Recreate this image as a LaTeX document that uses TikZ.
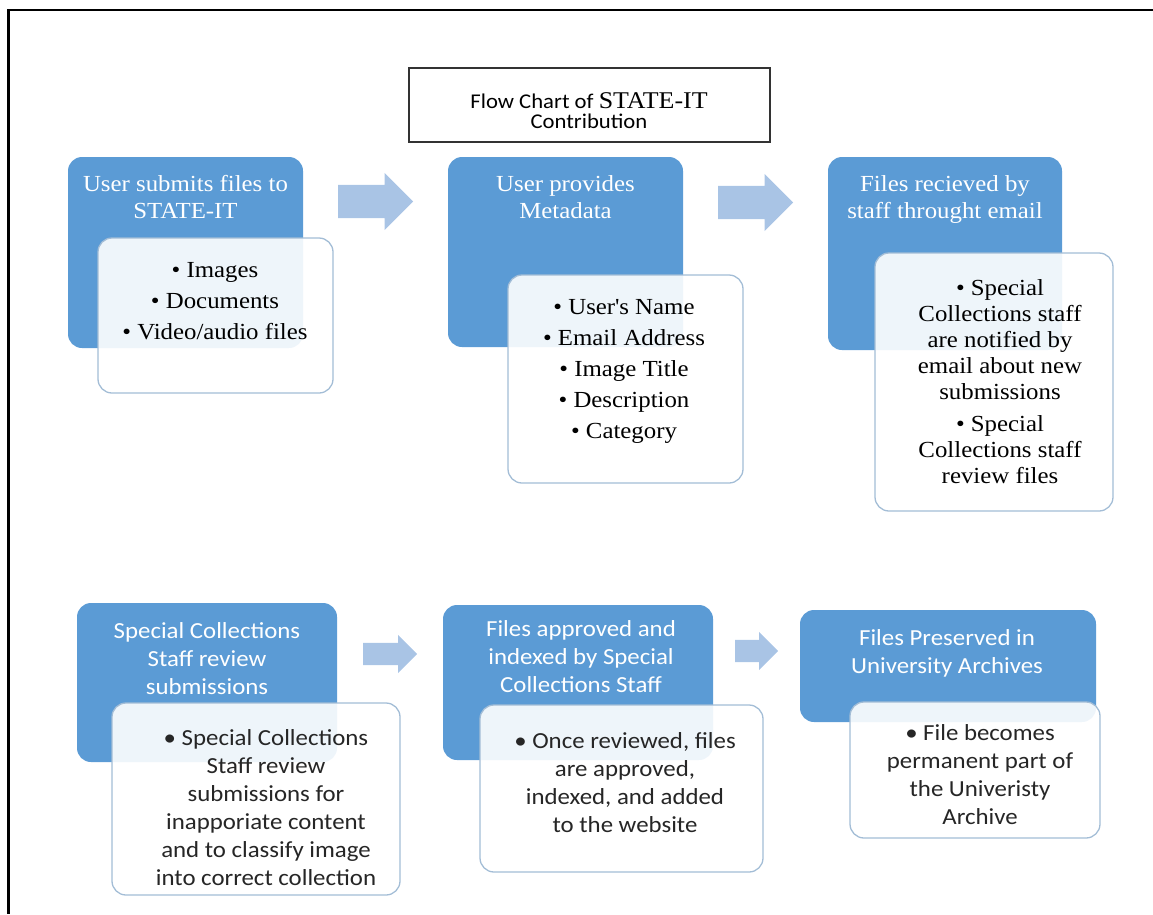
\documentclass[tikz,border=0pt]{standalone}
\usepackage{fontspec}
\setmainfont{Liberation Serif}[FakeStretch=1.08]
\newfontfamily\calibri{Carlito}[FakeStretch=1.08]
\usetikzlibrary{shapes.arrows}

\definecolor{boxblue}{HTML}{5B9BD5}
\definecolor{arrowblue}{HTML}{A9C4E5}
\definecolor{itemline}{HTML}{A3BDD6}

\tikzset{
  stepbox/.style={rounded corners=14pt, fill=boxblue, inner sep=0pt},
  itembox/.style={rounded corners=14pt, draw=itemline, line width=1.3pt, fill=white, fill opacity=0.9, inner sep=0pt},
  headtext/.style={anchor=north, inner sep=0pt, align=center, text=white},
  itemtext/.style={anchor=north, inner sep=0pt, align=center},
  arrowbase/.style={single arrow, fill=arrowblue, inner xsep=0pt, anchor=west},
  bigarrow/.style={arrowbase, inner ysep=16.5pt, single arrow head extend=12pt, minimum height=75pt},
  smallarrow/.style={arrowbase, inner ysep=11pt, single arrow head extend=8pt, minimum height=#1},
}

\begin{document}
\begin{tikzpicture}[x=1pt, y=-1pt, font=\fontsize{23}{27}\selectfont]
\useasboundingbox (0,0) rectangle (1153,914);

% Frame
\draw[line width=2.3pt] (1153,10) -- (8.5,10) -- (8.5,914);

% Title
\node[draw=black!80, line width=1.2pt, minimum width=361pt, minimum height=74pt, inner sep=0pt] (title) at (589.5,105) {};
\node[itemtext, font=\calibri\fontsize{21}{20}\selectfont] (title-text) at (589,92) {Flow Chart of {\rmfamily\fontsize{24}{20}\selectfont STATE-IT}\\Contribution};

% Row one
\node[stepbox, minimum width=235pt, minimum height=191pt] (submit) at (185.5,252.5) {};
\node[itembox, minimum width=235pt, minimum height=155pt] (submit-items) at (215.5,315.5) {};
\node[headtext] (submit-text) at (185.5,175) {User submits files to\\STATE-IT};
\node[itemtext] (submit-list) at (215,262) {• Images\\[4pt]• Documents\\[4pt]• Video/audio files};

\node[bigarrow] (arrow-a) at (338,201.5) {};

\node[stepbox, minimum width=235pt, minimum height=190pt] (meta) at (565.5,252) {};
\node[itembox, minimum width=235pt, minimum height=208pt] (meta-items) at (625.5,379) {};
\node[headtext] (meta-text) at (565.5,175) {User provides\\Metadata};
\node[itemtext] (meta-list) at (624,299) {• User\textquotesingle s Name\\[4pt]• Email Address\\[4pt]• Image Title\\[4pt]• Description\\[4pt]• Category};

\node[bigarrow] (arrow-b) at (718,202.5) {};

\node[stepbox, minimum width=234pt, minimum height=193pt] (email) at (945,253.5) {};
\node[itembox, minimum width=238pt, minimum height=258pt] (email-items) at (994,382) {};
\node[headtext] (email-text) at (945,175) {Files recieved by\\staff throught email};
\node[itemtext, font=\fontsize{23}{26}\selectfont] (email-list) at (1000,279) {• Special\\Collections staff\\are notified by\\email about new\\submissions\\[6pt]• Special\\Collections staff\\review files};

% Row two
\begin{scope}[font=\calibri\fontsize{23}{28}\selectfont]
\node[stepbox, minimum width=260pt, minimum height=159pt] (review) at (207,682.5) {};
\node[itembox, minimum width=288pt, minimum height=192pt] (review-items) at (256,799) {};
\node[headtext] (review-text) at (207,622) {Special Collections\\Staff review\\submissions};
\node[itemtext, text=black!85] (review-list) at (266,729) {• Special Collections\\Staff review\\submissions for\\inapporiate content\\and to classify image\\into correct collection};

\node[smallarrow=54pt] (arrow-c) at (363,654) {};

\node[stepbox, minimum width=270pt, minimum height=155pt] (approve) at (578,682.5) {};
\node[itembox, minimum width=283pt, minimum height=167pt] (approve-items) at (621.5,788.5) {};
\node[headtext] (approve-text) at (581,620) {Files approved and\\indexed by Special\\Collections Staff};
\node[itemtext, text=black!85] (approve-list) at (625,732) {• Once reviewed, files\\are approved,\\indexed, and added\\to the website};

\node[smallarrow=43pt] (arrow-d) at (735,651) {};

\node[stepbox, minimum width=296pt, minimum height=112pt] (archive) at (948,666) {};
\node[itembox, minimum width=250pt, minimum height=136pt] (archive-items) at (975,770) {};
\node[headtext] (archive-text) at (947,629) {Files Preserved in\\University Archives};
\node[itemtext, text=black!85] (archive-list) at (980,724) {• File becomes\\permanent part of\\the Univeristy\\Archive};
\end{scope}

\end{tikzpicture}
\end{document}
